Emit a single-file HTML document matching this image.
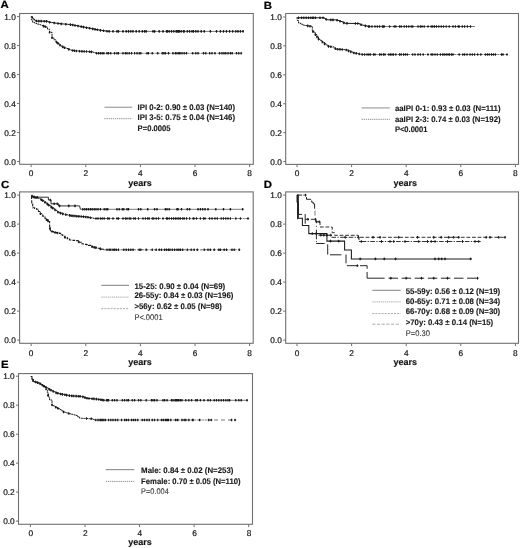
<!DOCTYPE html>
<html lang="en"><head><meta charset="utf-8"><title>Figure</title>
<style>html,body{margin:0;padding:0;background:#fff}svg{display:block}text{font-family:"Liberation Sans", sans-serif;fill:#1c1c1c;text-rendering:geometricPrecision}.tk{font-size:8.3px;fill:#111;stroke:#111;stroke-width:0.18px}.yr{font-size:9px;font-weight:bold;fill:#111;stroke:#111;stroke-width:0.15px}.pl{font-size:10.4px;font-weight:bold;fill:#000;stroke:#000;stroke-width:0.2px}.lg{font-size:8.1px;font-weight:bold;fill:#1a1a1a;stroke:#1a1a1a;stroke-width:0.12px}.lp{font-size:8.1px;fill:#333;stroke:#333;stroke-width:0.1px}</style></head><body>
<svg width="520" height="548" viewBox="0 0 520 548">
<rect width="520" height="548" fill="#fff"/>
<text transform="translate(0.5,8.4) scale(1.1,1)" class="pl">A</text>
<text transform="translate(263.8,8.5) scale(1.1,1)" class="pl">B</text>
<text transform="translate(0.9,188.2) scale(1.1,1)" class="pl">C</text>
<text transform="translate(263.8,187.7) scale(1.1,1)" class="pl">D</text>
<text transform="translate(0.9,367.9) scale(1.1,1)" class="pl">E</text>
<rect x="19.6" y="13.5" width="233.70" height="150.80" fill="none" stroke="#707070" stroke-width="1.1"/>
<line x1="17.10" y1="16.55" x2="19.6" y2="16.55" stroke="#707070" stroke-width="1"/>
<text x="15.80" y="19.60" text-anchor="end" class="tk">1.0</text>
<line x1="17.10" y1="45.54" x2="19.6" y2="45.54" stroke="#707070" stroke-width="1"/>
<text x="15.80" y="48.59" text-anchor="end" class="tk">0.8</text>
<line x1="17.10" y1="74.53" x2="19.6" y2="74.53" stroke="#707070" stroke-width="1"/>
<text x="15.80" y="77.58" text-anchor="end" class="tk">0.6</text>
<line x1="17.10" y1="103.52" x2="19.6" y2="103.52" stroke="#707070" stroke-width="1"/>
<text x="15.80" y="106.57" text-anchor="end" class="tk">0.4</text>
<line x1="17.10" y1="132.51" x2="19.6" y2="132.51" stroke="#707070" stroke-width="1"/>
<text x="15.80" y="135.56" text-anchor="end" class="tk">0.2</text>
<line x1="17.10" y1="161.50" x2="19.6" y2="161.50" stroke="#707070" stroke-width="1"/>
<text x="15.80" y="164.55" text-anchor="end" class="tk">0.0</text>
<line x1="31.15" y1="164.3" x2="31.15" y2="167.10" stroke="#707070" stroke-width="1"/>
<text x="31.15" y="176.10" text-anchor="middle" class="tk">0</text>
<line x1="85.80" y1="164.3" x2="85.80" y2="167.10" stroke="#707070" stroke-width="1"/>
<text x="85.80" y="176.10" text-anchor="middle" class="tk">2</text>
<line x1="140.40" y1="164.3" x2="140.40" y2="167.10" stroke="#707070" stroke-width="1"/>
<text x="140.40" y="176.10" text-anchor="middle" class="tk">4</text>
<line x1="195.00" y1="164.3" x2="195.00" y2="167.10" stroke="#707070" stroke-width="1"/>
<text x="195.00" y="176.10" text-anchor="middle" class="tk">6</text>
<line x1="249.60" y1="164.3" x2="249.60" y2="167.10" stroke="#707070" stroke-width="1"/>
<text x="249.60" y="176.10" text-anchor="middle" class="tk">8</text>
<text x="128.2" y="185.6" class="yr">years</text>
<path d="M31.20,16.50 L32.50,16.50 L32.50,18.40 L33.75,18.40 L33.75,19.60 L35.00,19.60 L35.00,20.80 L37.00,21.10 L45.80,21.20 L47.70,21.20 L47.70,21.75 L49.60,21.75 L49.60,22.30 L51.40,22.30 L51.40,22.57 L53.20,22.57 L53.20,22.83 L55.00,22.83 L55.00,23.10 L56.80,23.10 L56.80,23.33 L58.60,23.33 L58.60,23.57 L60.40,23.57 L60.40,23.80 L61.80,23.80 L61.80,23.90 L63.20,23.90 L63.20,24.00 L64.60,24.00 L64.60,24.10 L66.00,24.10 L66.00,24.20 L67.73,24.20 L67.73,24.37 L69.47,24.37 L69.47,24.53 L71.20,24.53 L71.20,24.70 L72.72,24.70 L72.72,25.00 L74.24,25.00 L74.24,25.30 L75.76,25.30 L75.76,25.60 L77.28,25.60 L77.28,25.90 L78.80,25.90 L78.80,26.20 L80.34,26.20 L80.34,26.50 L81.88,26.50 L81.88,26.80 L83.42,26.80 L83.42,27.10 L84.96,27.10 L84.96,27.40 L86.50,27.40 L86.50,27.70 L88.04,27.70 L88.04,28.00 L89.58,28.00 L89.58,28.30 L91.12,28.30 L91.12,28.60 L92.66,28.60 L92.66,28.90 L94.20,28.90 L94.20,29.20 L95.65,29.20 L95.65,29.48 L97.10,29.48 L97.10,29.75 L98.55,29.75 L98.55,30.02 L100.00,30.02 L100.00,30.30 L101.67,30.30 L101.67,30.53 L103.33,30.53 L103.33,30.77 L105.00,30.77 L105.00,31.00 L107.00,31.00 L107.00,31.20 L109.00,31.20 L109.00,31.40" fill="none" stroke="#1a1a1a" stroke-width="1.0"/>
<path d="M109.00,31.40 L243.75,31.40" fill="none" stroke="#2a2a2a" stroke-width="0.62"/>
<path d="M31.20,16.50 L31.50,20.00 L32.70,20.00 L32.70,22.30 L34.35,22.30 L34.35,22.95 L36.00,22.95 L36.00,23.60 L37.47,23.60 L37.47,24.07 L38.93,24.07 L38.93,24.53 L40.40,24.53 L40.40,25.00 L42.20,25.00 L42.20,25.67 L44.00,25.67 L44.00,26.33 L45.80,26.33 L45.80,27.00 L47.50,27.00 L47.50,29.20 L49.60,29.20 L49.60,32.30 L52.00,32.30 L52.00,37.70 L53.80,37.70 L53.80,39.80 L55.80,39.80 L55.80,41.50 L57.15,41.50 L57.15,42.75 L58.50,42.75 L58.50,44.00 L59.85,44.00 L59.85,45.10 L61.20,45.10 L61.20,46.20 L62.60,46.20 L62.60,46.85 L64.00,46.85 L64.00,47.50 L65.25,47.50 L65.25,48.00 L66.50,48.00 L66.50,48.50 L68.07,48.50 L68.07,49.10 L69.63,49.10 L69.63,49.70 L71.20,49.70 L71.20,50.30 L72.72,50.30 L72.72,50.48 L74.24,50.48 L74.24,50.66 L75.76,50.66 L75.76,50.84 L77.28,50.84 L77.28,51.02 L78.80,51.02 L78.80,51.20 L80.35,51.20 L80.35,51.28 L81.90,51.28 L81.90,51.35 L83.45,51.35 L83.45,51.42 L85.00,51.42 L85.00,51.50 L86.55,51.50 L86.55,51.58 L88.10,51.58 L88.10,51.65 L89.65,51.65 L89.65,51.72 L91.20,51.72 L91.20,51.80 L93.50,51.80 L93.50,52.60 L95.80,52.60 L95.80,53.30" fill="none" stroke="#1a1a1a" stroke-width="1.0" stroke-dasharray="2 0.7"/>
<path d="M95.80,53.30 L241.75,53.30" fill="none" stroke="#2a2a2a" stroke-width="0.62" stroke-dasharray="2 0.7"/>
<path d="M36.50,19.73v2.60M35.55,21.03h1.90M38.80,19.82v2.60M37.85,21.12h1.90M41.20,19.85v2.60M40.25,21.15h1.90M44.20,19.88v2.60M43.25,21.18h1.90M46.50,20.10v2.60M45.55,21.40h1.90M49.60,21.00v2.60M48.65,22.30h1.90M54.20,21.68v2.60M53.25,22.98h1.90M58.00,22.19v2.60M57.05,23.49h1.90M61.20,22.56v2.60M60.25,23.86h1.90M65.80,22.89v2.60M64.85,24.19h1.90M70.40,23.32v2.60M69.45,24.62h1.90M72.70,23.70v2.60M71.75,25.00h1.90M75.00,24.15v2.60M74.05,25.45h1.90M78.00,24.74v2.60M77.05,26.04h1.90M81.20,25.37v2.60M80.25,26.67h1.90M83.50,25.82v2.60M82.55,27.12h1.90M86.50,26.40v2.60M85.55,27.70h1.90M89.60,27.00v2.60M88.65,28.30h1.90M92.70,27.61v2.60M91.75,28.91h1.90M95.00,28.05v2.60M94.05,29.35h1.90M97.30,28.49v2.60M96.35,29.79h1.90M100.40,29.06v2.60M99.45,30.36h1.90M103.50,29.49v2.60M102.55,30.79h1.90M107.00,29.90v2.60M106.05,31.20h1.90M109.20,30.10v2.60M108.25,31.40h1.90M113.00,30.10v2.60M112.05,31.40h1.90M117.00,30.10v2.60M116.05,31.40h1.90M118.50,30.10v2.60M117.55,31.40h1.90M123.00,30.10v2.60M122.05,31.40h1.90M126.20,30.10v2.60M125.25,31.40h1.90M128.50,30.10v2.60M127.55,31.40h1.90M130.80,30.10v2.60M129.85,31.40h1.90M133.00,30.10v2.60M132.05,31.40h1.90M136.20,30.10v2.60M135.25,31.40h1.90M139.20,30.10v2.60M138.25,31.40h1.90M142.30,30.10v2.60M141.35,31.40h1.90M144.60,30.10v2.60M143.65,31.40h1.90M146.20,30.10v2.60M145.25,31.40h1.90M153.00,30.10v2.60M152.05,31.40h1.90M154.60,30.10v2.60M153.65,31.40h1.90M159.20,30.10v2.60M158.25,31.40h1.90M163.00,30.10v2.60M162.05,31.40h1.90M166.60,30.10v2.60M165.65,31.40h1.90M167.40,30.10v2.60M166.45,31.40h1.90M169.20,30.10v2.60M168.25,31.40h1.90M171.50,30.10v2.60M170.55,31.40h1.90M173.80,30.10v2.60M172.85,31.40h1.90M176.20,30.10v2.60M175.25,31.40h1.90M178.50,30.10v2.60M177.55,31.40h1.90M177.30,30.10v2.60M176.35,31.40h1.90M179.30,30.10v2.60M178.35,31.40h1.90M181.20,30.10v2.60M180.25,31.40h1.90M183.50,30.10v2.60M182.55,31.40h1.90M184.20,30.10v2.60M183.25,31.40h1.90M187.30,30.10v2.60M186.35,31.40h1.90M189.60,30.10v2.60M188.65,31.40h1.90M192.00,30.10v2.60M191.05,31.40h1.90M193.50,30.10v2.60M192.55,31.40h1.90M195.80,30.10v2.60M194.85,31.40h1.90M198.00,30.10v2.60M197.05,31.40h1.90M201.20,30.10v2.60M200.25,31.40h1.90M204.20,30.10v2.60M203.25,31.40h1.90M210.40,30.10v2.60M209.45,31.40h1.90M216.50,30.10v2.60M215.55,31.40h1.90M220.40,30.10v2.60M219.45,31.40h1.90M223.50,30.10v2.60M222.55,31.40h1.90M226.50,30.10v2.60M225.55,31.40h1.90M229.60,30.10v2.60M228.65,31.40h1.90M232.70,30.10v2.60M231.75,31.40h1.90M235.80,30.10v2.60M234.85,31.40h1.90M238.00,30.10v2.60M237.05,31.40h1.90M240.40,30.10v2.60M239.45,31.40h1.90M243.00,30.10v2.60M242.05,31.40h1.90" fill="none" stroke="#1a1a1a" stroke-width="1.1"/>
<path d="M43.50,24.85v2.60M42.55,26.15h1.90M45.30,25.51v2.60M44.35,26.81h1.90M49.60,31.00v2.60M48.65,32.30h1.90M52.00,36.40v2.60M51.05,37.70h1.90M56.50,40.85v2.60M55.55,42.15h1.90M58.00,42.24v2.60M57.05,43.54h1.90M60.00,43.92v2.60M59.05,45.22h1.90M62.70,45.60v2.60M61.75,46.90h1.90M64.50,46.40v2.60M63.55,47.70h1.90M68.80,48.08v2.60M67.85,49.38h1.90M72.70,49.18v2.60M71.75,50.48h1.90M74.50,49.39v2.60M73.55,50.69h1.90M76.50,49.63v2.60M75.55,50.93h1.90M79.60,49.94v2.60M78.65,51.24h1.90M82.00,50.05v2.60M81.05,51.35h1.90M84.20,50.16v2.60M83.25,51.46h1.90M86.50,50.27v2.60M85.55,51.57h1.90M89.60,50.42v2.60M88.65,51.72h1.90M91.50,50.60v2.60M90.55,51.90h1.90M96.50,52.00v2.60M95.55,53.30h1.90M98.50,52.00v2.60M97.55,53.30h1.90M100.40,52.00v2.60M99.45,53.30h1.90M102.20,52.00v2.60M101.25,53.30h1.90M103.80,52.00v2.60M102.85,53.30h1.90M107.00,52.00v2.60M106.05,53.30h1.90M108.50,52.00v2.60M107.55,53.30h1.90M110.80,52.00v2.60M109.85,53.30h1.90M114.60,52.00v2.60M113.65,53.30h1.90M117.00,52.00v2.60M116.05,53.30h1.90M118.50,52.00v2.60M117.55,53.30h1.90M123.00,52.00v2.60M122.05,53.30h1.90M125.40,52.00v2.60M124.45,53.30h1.90M127.00,52.00v2.60M126.05,53.30h1.90M129.20,52.00v2.60M128.25,53.30h1.90M131.50,52.00v2.60M130.55,53.30h1.90M134.60,52.00v2.60M133.65,53.30h1.90M137.00,52.00v2.60M136.05,53.30h1.90M139.20,52.00v2.60M138.25,53.30h1.90M140.80,52.00v2.60M139.85,53.30h1.90M147.00,52.00v2.60M146.05,53.30h1.90M148.50,52.00v2.60M147.55,53.30h1.90M152.30,52.00v2.60M151.35,53.30h1.90M157.70,52.00v2.60M156.75,53.30h1.90M162.30,52.00v2.60M161.35,53.30h1.90M163.80,52.00v2.60M162.85,53.30h1.90M165.40,52.00v2.60M164.45,53.30h1.90M168.50,52.00v2.60M167.55,53.30h1.90M173.00,52.00v2.60M172.05,53.30h1.90M175.40,52.00v2.60M174.45,53.30h1.90M177.00,52.00v2.60M176.05,53.30h1.90M178.80,52.00v2.60M177.85,53.30h1.90M180.00,52.00v2.60M179.05,53.30h1.90M182.00,52.00v2.60M181.05,53.30h1.90M184.20,52.00v2.60M183.25,53.30h1.90M186.50,52.00v2.60M185.55,53.30h1.90M192.70,52.00v2.60M191.75,53.30h1.90M195.80,52.00v2.60M194.85,53.30h1.90M198.00,52.00v2.60M197.05,53.30h1.90M203.50,52.00v2.60M202.55,53.30h1.90M205.80,52.00v2.60M204.85,53.30h1.90M209.60,52.00v2.60M208.65,53.30h1.90M212.00,52.00v2.60M211.05,53.30h1.90M215.00,52.00v2.60M214.05,53.30h1.90M219.60,52.00v2.60M218.65,53.30h1.90M222.00,52.00v2.60M221.05,53.30h1.90M224.00,52.00v2.60M223.05,53.30h1.90M225.80,52.00v2.60M224.85,53.30h1.90M228.00,52.00v2.60M227.05,53.30h1.90M230.40,52.00v2.60M229.45,53.30h1.90M232.20,52.00v2.60M231.25,53.30h1.90M236.50,52.00v2.60M235.55,53.30h1.90M238.80,52.00v2.60M237.85,53.30h1.90M241.20,52.00v2.60M240.25,53.30h1.90" fill="none" stroke="#1a1a1a" stroke-width="1.1"/>
<line x1="104.4" y1="107.3" x2="132.2" y2="107.3" stroke="#adadad" stroke-width="1.4"/>
<text x="137.6" y="110.40" class="lg" textLength="97.40" lengthAdjust="spacingAndGlyphs">IPI 0-2: 0.90 ± 0.03 (N=140)</text>
<line x1="104.4" y1="118.7" x2="132.2" y2="118.7" stroke="#8e8e8e" stroke-width="1.0" stroke-dasharray="1.3 0.8"/>
<text x="137.6" y="120.40" class="lg" textLength="97.40" lengthAdjust="spacingAndGlyphs">IPI 3-5: 0.75 ± 0.04 (N=146)</text>
<text x="137.6" y="130.90" class="lg" textLength="32.90" lengthAdjust="spacingAndGlyphs">P=0.0005</text>
<rect x="285.7" y="13.5" width="232.80" height="150.90" fill="none" stroke="#707070" stroke-width="1.1"/>
<line x1="283.20" y1="17.00" x2="285.7" y2="17.00" stroke="#707070" stroke-width="1"/>
<text x="281.90" y="20.05" text-anchor="end" class="tk">1.0</text>
<line x1="283.20" y1="45.92" x2="285.7" y2="45.92" stroke="#707070" stroke-width="1"/>
<text x="281.90" y="48.97" text-anchor="end" class="tk">0.8</text>
<line x1="283.20" y1="74.84" x2="285.7" y2="74.84" stroke="#707070" stroke-width="1"/>
<text x="281.90" y="77.89" text-anchor="end" class="tk">0.6</text>
<line x1="283.20" y1="103.76" x2="285.7" y2="103.76" stroke="#707070" stroke-width="1"/>
<text x="281.90" y="106.81" text-anchor="end" class="tk">0.4</text>
<line x1="283.20" y1="132.68" x2="285.7" y2="132.68" stroke="#707070" stroke-width="1"/>
<text x="281.90" y="135.73" text-anchor="end" class="tk">0.2</text>
<line x1="283.20" y1="161.60" x2="285.7" y2="161.60" stroke="#707070" stroke-width="1"/>
<text x="281.90" y="164.65" text-anchor="end" class="tk">0.0</text>
<line x1="297.00" y1="164.4" x2="297.00" y2="167.20" stroke="#707070" stroke-width="1"/>
<text x="297.00" y="176.10" text-anchor="middle" class="tk">0</text>
<line x1="351.60" y1="164.4" x2="351.60" y2="167.20" stroke="#707070" stroke-width="1"/>
<text x="351.60" y="176.10" text-anchor="middle" class="tk">2</text>
<line x1="406.20" y1="164.4" x2="406.20" y2="167.20" stroke="#707070" stroke-width="1"/>
<text x="406.20" y="176.10" text-anchor="middle" class="tk">4</text>
<line x1="460.80" y1="164.4" x2="460.80" y2="167.20" stroke="#707070" stroke-width="1"/>
<text x="460.80" y="176.10" text-anchor="middle" class="tk">6</text>
<line x1="515.40" y1="164.4" x2="515.40" y2="167.20" stroke="#707070" stroke-width="1"/>
<text x="515.40" y="176.10" text-anchor="middle" class="tk">8</text>
<text x="393.6" y="185.6" class="yr">years</text>
<path d="M297.00,17.30 L297.60,17.80 L323.00,17.80 L324.60,17.80 L324.60,18.65 L326.20,18.65 L326.20,19.50 L328.00,19.80 L336.00,19.90 L337.60,19.90 L337.60,20.43 L339.20,20.43 L339.20,20.97 L340.80,20.97 L340.80,21.50 L342.70,21.50 L342.70,22.40 L344.60,22.40 L344.60,23.30 L357.70,23.50 L359.60,23.50 L359.60,24.25 L361.50,24.25 L361.50,25.00 L363.25,25.00 L363.25,25.40 L365.00,25.40 L365.00,25.80 L366.75,25.80 L366.75,26.15 L368.50,26.15 L368.50,26.50" fill="none" stroke="#1a1a1a" stroke-width="1.0"/>
<path d="M368.50,26.50 L475.00,26.50" fill="none" stroke="#2a2a2a" stroke-width="0.62"/>
<path d="M297.00,17.30 L297.30,20.50 L298.50,20.50 L298.50,23.00 L300.40,23.00 L300.40,24.00 L302.30,24.00 L302.30,25.00 L303.84,25.00 L303.84,25.24 L305.38,25.24 L305.38,25.48 L306.92,25.48 L306.92,25.72 L308.46,25.72 L308.46,25.96 L310.00,25.96 L310.00,26.20 L312.30,26.20 L312.30,30.80 L313.85,30.80 L313.85,32.70 L315.40,32.70 L315.40,34.60 L316.95,34.60 L316.95,36.90 L318.50,36.90 L318.50,39.20 L320.00,39.20 L320.00,40.33 L321.50,40.33 L321.50,41.47 L323.00,41.47 L323.00,42.60 L324.57,42.60 L324.57,43.80 L326.13,43.80 L326.13,45.00 L327.70,45.00 L327.70,46.20 L329.23,46.20 L329.23,46.47 L330.77,46.47 L330.77,46.73 L332.30,46.73 L332.30,47.00 L334.25,47.00 L334.25,48.10 L336.20,48.10 L336.20,49.20 L337.73,49.20 L337.73,49.28 L339.27,49.28 L339.27,49.37 L340.80,49.37 L340.80,49.45 L342.33,49.45 L342.33,49.53 L343.87,49.53 L343.87,49.62 L345.40,49.62 L345.40,49.70 L347.30,49.70 L347.30,50.45 L349.20,50.45 L349.20,51.20 L351.10,51.20 L351.10,52.00 L353.00,52.00 L353.00,52.80 L354.83,52.80 L354.83,53.13 L356.67,53.13 L356.67,53.47 L358.50,53.47 L358.50,53.80 L360.40,53.80 L360.40,54.15 L362.30,54.15 L362.30,54.50" fill="none" stroke="#1a1a1a" stroke-width="1.0" stroke-dasharray="2 0.7"/>
<path d="M362.30,54.50 L507.60,54.50" fill="none" stroke="#2a2a2a" stroke-width="0.62" stroke-dasharray="2 0.7"/>
<path d="M298.50,16.50v2.60M297.55,17.80h1.90M301.50,16.50v2.60M300.55,17.80h1.90M303.80,16.50v2.60M302.85,17.80h1.90M306.20,16.50v2.60M305.25,17.80h1.90M308.50,16.50v2.60M307.55,17.80h1.90M310.80,16.50v2.60M309.85,17.80h1.90M312.70,16.50v2.60M311.75,17.80h1.90M313.40,16.50v2.60M312.45,17.80h1.90M315.40,16.50v2.60M314.45,17.80h1.90M320.00,16.50v2.60M319.05,17.80h1.90M323.00,16.50v2.60M322.05,17.80h1.90M326.20,18.20v2.60M325.25,19.50h1.90M330.80,18.54v2.60M329.85,19.84h1.90M333.00,18.56v2.60M332.05,19.86h1.90M337.00,18.93v2.60M336.05,20.23h1.90M340.00,19.93v2.60M339.05,21.23h1.90M343.80,21.62v2.60M342.85,22.92h1.90M347.00,22.04v2.60M346.05,23.34h1.90M355.40,22.16v2.60M354.45,23.46h1.90M357.70,22.20v2.60M356.75,23.50h1.90M361.00,23.50v2.60M360.05,24.80h1.90M365.40,24.58v2.60M364.45,25.88h1.90M368.50,25.20v2.60M367.55,26.50h1.90M369.60,25.20v2.60M368.65,26.50h1.90M372.00,25.20v2.60M371.05,26.50h1.90M375.00,25.20v2.60M374.05,26.50h1.90M377.30,25.20v2.60M376.35,26.50h1.90M379.60,25.20v2.60M378.65,26.50h1.90M382.40,25.20v2.60M381.45,26.50h1.90M383.10,25.20v2.60M382.15,26.50h1.90M384.20,25.20v2.60M383.25,26.50h1.90M389.60,25.20v2.60M388.65,26.50h1.90M394.20,25.20v2.60M393.25,26.50h1.90M395.80,25.20v2.60M394.85,26.50h1.90M399.60,25.20v2.60M398.65,26.50h1.90M401.20,25.20v2.60M400.25,26.50h1.90M404.20,25.20v2.60M403.25,26.50h1.90M406.50,25.20v2.60M405.55,26.50h1.90M408.80,25.20v2.60M407.85,26.50h1.90M411.20,25.20v2.60M410.25,26.50h1.90M412.70,25.20v2.60M411.75,26.50h1.90M418.00,25.20v2.60M417.05,26.50h1.90M420.40,25.20v2.60M419.45,26.50h1.90M422.00,25.20v2.60M421.05,26.50h1.90M424.20,25.20v2.60M423.25,26.50h1.90M428.00,25.20v2.60M427.05,26.50h1.90M431.20,25.20v2.60M430.25,26.50h1.90M432.70,25.20v2.60M431.75,26.50h1.90M434.50,25.20v2.60M433.55,26.50h1.90M436.50,25.20v2.60M435.55,26.50h1.90M438.80,25.20v2.60M437.85,26.50h1.90M441.20,25.20v2.60M440.25,26.50h1.90M443.50,25.20v2.60M442.55,26.50h1.90M446.20,25.20v2.60M445.25,26.50h1.90M449.20,25.20v2.60M448.25,26.50h1.90M453.00,25.20v2.60M452.05,26.50h1.90M455.40,25.20v2.60M454.45,26.50h1.90M458.20,25.20v2.60M457.25,26.50h1.90M459.20,25.20v2.60M458.25,26.50h1.90M462.30,25.20v2.60M461.35,26.50h1.90M464.60,25.20v2.60M463.65,26.50h1.90M467.40,25.20v2.60M466.45,26.50h1.90M470.50,25.20v2.60M469.55,26.50h1.90" fill="none" stroke="#1a1a1a" stroke-width="1.1"/>
<path d="M307.70,24.54v2.60M306.75,25.84h1.90M310.00,24.90v2.60M309.05,26.20h1.90M313.00,30.36v2.60M312.05,31.66h1.90M315.40,33.30v2.60M314.45,34.60h1.90M317.00,35.67v2.60M316.05,36.97h1.90M318.50,37.90v2.60M317.55,39.20h1.90M322.30,40.77v2.60M321.35,42.07h1.90M324.60,42.53v2.60M323.65,43.83h1.90M328.50,45.04v2.60M327.55,46.34h1.90M330.80,45.44v2.60M329.85,46.74h1.90M335.40,47.45v2.60M334.45,48.75h1.90M337.70,47.98v2.60M336.75,49.28h1.90M340.00,48.11v2.60M339.05,49.41h1.90M342.30,48.23v2.60M341.35,49.53h1.90M346.20,48.72v2.60M345.25,50.02h1.90M348.50,49.62v2.60M347.55,50.92h1.90M350.80,50.57v2.60M349.85,51.87h1.90M353.80,51.65v2.60M352.85,52.95h1.90M356.20,52.08v2.60M355.25,53.38h1.90M359.20,52.63v2.60M358.25,53.93h1.90M362.30,53.20v2.60M361.35,54.50h1.90M364.60,53.20v2.60M363.65,54.50h1.90M367.00,53.20v2.60M366.05,54.50h1.90M368.80,53.20v2.60M367.85,54.50h1.90M370.40,53.20v2.60M369.45,54.50h1.90M373.50,53.20v2.60M372.55,54.50h1.90M375.00,53.20v2.60M374.05,54.50h1.90M379.60,53.20v2.60M378.65,54.50h1.90M381.20,53.20v2.60M380.25,54.50h1.90M383.50,53.20v2.60M382.55,54.50h1.90M385.00,53.20v2.60M384.05,54.50h1.90M388.80,53.20v2.60M387.85,54.50h1.90M390.40,53.20v2.60M389.45,54.50h1.90M392.00,53.20v2.60M391.05,54.50h1.90M393.50,53.20v2.60M392.55,54.50h1.90M395.80,53.20v2.60M394.85,54.50h1.90M399.60,53.20v2.60M398.65,54.50h1.90M401.20,53.20v2.60M400.25,54.50h1.90M403.50,53.20v2.60M402.55,54.50h1.90M405.30,53.20v2.60M404.35,54.50h1.90M407.30,53.20v2.60M406.35,54.50h1.90M412.70,53.20v2.60M411.75,54.50h1.90M415.00,53.20v2.60M414.05,54.50h1.90M418.00,53.20v2.60M417.05,54.50h1.90M420.40,53.20v2.60M419.45,54.50h1.90M423.20,53.20v2.60M422.25,54.50h1.90M428.00,53.20v2.60M427.05,54.50h1.90M431.20,53.20v2.60M430.25,54.50h1.90M432.70,53.20v2.60M431.75,54.50h1.90M435.00,53.20v2.60M434.05,54.50h1.90M437.30,53.20v2.60M436.35,54.50h1.90M440.40,53.20v2.60M439.45,54.50h1.90M442.70,53.20v2.60M441.75,54.50h1.90M444.30,53.20v2.60M443.35,54.50h1.90M446.20,53.20v2.60M445.25,54.50h1.90M448.00,53.20v2.60M447.05,54.50h1.90M449.50,53.20v2.60M448.55,54.50h1.90M451.50,53.20v2.60M450.55,54.50h1.90M453.00,53.20v2.60M452.05,54.50h1.90M459.20,53.20v2.60M458.25,54.50h1.90M462.80,53.20v2.60M461.85,54.50h1.90M464.60,53.20v2.60M463.65,54.50h1.90M467.00,53.20v2.60M466.05,54.50h1.90M470.00,53.20v2.60M469.05,54.50h1.90M472.30,53.20v2.60M471.35,54.50h1.90M474.60,53.20v2.60M473.65,54.50h1.90M477.70,53.20v2.60M476.75,54.50h1.90M480.80,53.20v2.60M479.85,54.50h1.90M485.40,53.20v2.60M484.45,54.50h1.90M487.40,53.20v2.60M486.45,54.50h1.90M489.20,53.20v2.60M488.25,54.50h1.90M491.50,53.20v2.60M490.55,54.50h1.90M493.40,53.20v2.60M492.45,54.50h1.90M495.40,53.20v2.60M494.45,54.50h1.90M501.50,53.20v2.60M500.55,54.50h1.90M503.00,53.20v2.60M502.05,54.50h1.90M507.00,53.20v2.60M506.05,54.50h1.90" fill="none" stroke="#1a1a1a" stroke-width="1.1"/>
<line x1="361.6" y1="107.9" x2="389.8" y2="107.9" stroke="#adadad" stroke-width="1.4"/>
<text x="394.9" y="110.70" class="lg" textLength="105.70" lengthAdjust="spacingAndGlyphs">aaIPI 0-1: 0.93 ± 0.03 (N=111)</text>
<line x1="361.6" y1="119.3" x2="389.8" y2="119.3" stroke="#8e8e8e" stroke-width="1.0" stroke-dasharray="1.3 0.8"/>
<text x="394.9" y="121.50" class="lg" textLength="105.70" lengthAdjust="spacingAndGlyphs">aaIPI 2-3: 0.74 ± 0.03 (N=192)</text>
<text x="394.9" y="131.70" class="lg" textLength="32.60" lengthAdjust="spacingAndGlyphs">P&lt;0.0001</text>
<rect x="19.6" y="191.9" width="233.60" height="151.40" fill="none" stroke="#707070" stroke-width="1.1"/>
<line x1="17.10" y1="195.10" x2="19.6" y2="195.10" stroke="#707070" stroke-width="1"/>
<text x="15.80" y="198.15" text-anchor="end" class="tk">1.0</text>
<line x1="17.10" y1="224.11" x2="19.6" y2="224.11" stroke="#707070" stroke-width="1"/>
<text x="15.80" y="227.16" text-anchor="end" class="tk">0.8</text>
<line x1="17.10" y1="253.12" x2="19.6" y2="253.12" stroke="#707070" stroke-width="1"/>
<text x="15.80" y="256.17" text-anchor="end" class="tk">0.6</text>
<line x1="17.10" y1="282.13" x2="19.6" y2="282.13" stroke="#707070" stroke-width="1"/>
<text x="15.80" y="285.18" text-anchor="end" class="tk">0.4</text>
<line x1="17.10" y1="311.14" x2="19.6" y2="311.14" stroke="#707070" stroke-width="1"/>
<text x="15.80" y="314.19" text-anchor="end" class="tk">0.2</text>
<line x1="17.10" y1="340.15" x2="19.6" y2="340.15" stroke="#707070" stroke-width="1"/>
<text x="15.80" y="343.20" text-anchor="end" class="tk">0.0</text>
<line x1="31.15" y1="343.3" x2="31.15" y2="346.10" stroke="#707070" stroke-width="1"/>
<text x="31.15" y="355.50" text-anchor="middle" class="tk">0</text>
<line x1="85.80" y1="343.3" x2="85.80" y2="346.10" stroke="#707070" stroke-width="1"/>
<text x="85.80" y="355.50" text-anchor="middle" class="tk">2</text>
<line x1="140.40" y1="343.3" x2="140.40" y2="346.10" stroke="#707070" stroke-width="1"/>
<text x="140.40" y="355.50" text-anchor="middle" class="tk">4</text>
<line x1="195.00" y1="343.3" x2="195.00" y2="346.10" stroke="#707070" stroke-width="1"/>
<text x="195.00" y="355.50" text-anchor="middle" class="tk">6</text>
<line x1="249.60" y1="343.3" x2="249.60" y2="346.10" stroke="#707070" stroke-width="1"/>
<text x="249.60" y="355.50" text-anchor="middle" class="tk">8</text>
<text x="128.2" y="365.3" class="yr">years</text>
<path d="M31.50,196.00 L32.20,196.00 L32.20,197.20 L48.40,197.20 L48.40,200.00 L51.00,200.00 L51.00,203.80 L58.40,203.80 L58.40,205.90 L79.60,205.90 L80.40,209.30" fill="none" stroke="#1a1a1a" stroke-width="0.9"/>
<path d="M80.40,209.30 L243.00,209.30" fill="none" stroke="#2a2a2a" stroke-width="0.62"/>
<path d="M31.50,196.00 L33.00,196.00 L33.00,196.53 L34.50,196.53 L34.50,197.07 L36.00,197.07 L36.00,197.60 L37.47,197.60 L37.47,198.13 L38.93,198.13 L38.93,198.67 L40.40,198.67 L40.40,199.20 L42.20,199.20 L42.20,200.47 L44.00,200.47 L44.00,201.73 L45.80,201.73 L45.80,203.00 L47.35,203.00 L47.35,204.18 L48.90,204.18 L48.90,205.35 L50.45,205.35 L50.45,206.52 L52.00,206.52 L52.00,207.70 L53.50,207.70 L53.50,208.85 L55.00,208.85 L55.00,210.00 L56.50,210.00 L56.50,211.15 L58.00,211.15 L58.00,212.30 L59.83,212.30 L59.83,212.93 L61.67,212.93 L61.67,213.57 L63.50,213.57 L63.50,214.20 L65.04,214.20 L65.04,214.50 L66.58,214.50 L66.58,214.80 L68.12,214.80 L68.12,215.10 L69.66,215.10 L69.66,215.40 L71.20,215.40 L71.20,215.70 L72.73,215.70 L72.73,215.83 L74.26,215.83 L74.26,215.96 L75.79,215.96 L75.79,216.09 L77.32,216.09 L77.32,216.22 L78.85,216.22 L78.85,216.35 L80.38,216.35 L80.38,216.48 L81.91,216.48 L81.91,216.61 L83.44,216.61 L83.44,216.74 L84.97,216.74 L84.97,216.87 L86.50,216.87 L86.50,217.00 L88.04,217.00 L88.04,217.30 L89.58,217.30 L89.58,217.60 L91.12,217.60 L91.12,217.90 L92.66,217.90 L92.66,218.20 L94.20,218.20 L94.20,218.50" fill="none" stroke="#1a1a1a" stroke-width="1.0" stroke-dasharray="2 0.7"/>
<path d="M94.20,218.50 L249.30,218.50" fill="none" stroke="#2a2a2a" stroke-width="0.62" stroke-dasharray="2 0.7"/>
<path d="M31.50,196.00 L31.80,203.00 L32.70,203.00 L32.70,207.70 L34.60,207.70 L34.60,208.45 L36.50,208.45 L36.50,209.20 L38.45,209.20 L38.45,211.50 L40.40,211.50 L40.40,213.80 L42.70,213.80 L42.70,216.15 L45.00,216.15 L45.00,218.50 L46.90,218.50 L46.90,220.00 L48.80,220.00 L48.80,221.50 L49.60,221.50 L49.60,226.00 L50.40,230.80 L51.95,230.80 L51.95,231.55 L53.50,231.55 L53.50,232.30 L55.53,232.30 L55.53,232.67 L57.57,232.67 L57.57,233.03 L59.60,233.03 L59.60,233.40 L61.15,233.40 L61.15,234.80 L62.70,234.80 L62.70,236.20 L65.00,236.20 L65.00,237.47 L67.30,237.47 L67.30,238.73 L69.60,238.73 L69.60,240.00 L71.52,240.00 L71.52,240.20 L73.45,240.20 L73.45,240.40 L75.38,240.40 L75.38,240.60 L77.30,240.60 L77.30,240.80 L79.25,240.80 L79.25,242.30 L81.20,242.30 L81.20,243.80 L82.97,243.80 L82.97,244.07 L84.73,244.07 L84.73,244.33 L86.50,244.33 L86.50,244.60 L88.57,244.60 L88.57,245.40 L90.63,245.40 L90.63,246.20 L92.70,246.20 L92.70,247.00 L94.47,247.00 L94.47,247.40 L96.23,247.40 L96.23,247.80 L98.00,247.80 L98.00,248.20 L99.83,248.20 L99.83,248.73 L101.67,248.73 L101.67,249.27 L103.50,249.27 L103.50,249.80" fill="none" stroke="#1a1a1a" stroke-width="1.1" stroke-dasharray="3 1.2"/>
<path d="M103.50,249.80 L240.00,249.80" fill="none" stroke="#2a2a2a" stroke-width="0.7" stroke-dasharray="3 1.2"/>
<path d="M32.00,194.70v2.60M31.05,196.00h1.90M34.20,195.90v2.60M33.25,197.20h1.90M37.30,195.90v2.60M36.35,197.20h1.90M50.40,198.70v2.60M49.45,200.00h1.90M54.20,202.50v2.60M53.25,203.80h1.90M57.30,202.50v2.60M56.35,203.80h1.90M59.60,204.60v2.60M58.65,205.90h1.90M68.80,204.60v2.60M67.85,205.90h1.90M75.00,204.60v2.60M74.05,205.90h1.90M82.70,208.00v2.60M81.75,209.30h1.90M84.70,208.00v2.60M83.75,209.30h1.90M86.50,208.00v2.60M85.55,209.30h1.90M88.40,208.00v2.60M87.45,209.30h1.90M90.40,208.00v2.60M89.45,209.30h1.90M92.20,208.00v2.60M91.25,209.30h1.90M94.20,208.00v2.60M93.25,209.30h1.90M96.00,208.00v2.60M95.05,209.30h1.90M98.00,208.00v2.60M97.05,209.30h1.90M100.40,208.00v2.60M99.45,209.30h1.90M104.20,208.00v2.60M103.25,209.30h1.90M106.20,208.00v2.60M105.25,209.30h1.90M107.70,208.00v2.60M106.75,209.30h1.90M117.00,208.00v2.60M116.05,209.30h1.90M119.20,208.00v2.60M118.25,209.30h1.90M122.30,208.00v2.60M121.35,209.30h1.90M123.80,208.00v2.60M122.85,209.30h1.90M127.00,208.00v2.60M126.05,209.30h1.90M128.50,208.00v2.60M127.55,209.30h1.90M138.50,208.00v2.60M137.55,209.30h1.90M140.80,208.00v2.60M139.85,209.30h1.90M147.70,208.00v2.60M146.75,209.30h1.90M154.60,208.00v2.60M153.65,209.30h1.90M157.00,208.00v2.60M156.05,209.30h1.90M165.40,208.00v2.60M164.45,209.30h1.90M167.00,208.00v2.60M166.05,209.30h1.90M169.20,208.00v2.60M168.25,209.30h1.90M177.00,208.00v2.60M176.05,209.30h1.90M178.00,208.00v2.60M177.05,209.30h1.90M181.50,208.00v2.60M180.55,209.30h1.90M187.30,208.00v2.60M186.35,209.30h1.90M189.60,208.00v2.60M188.65,209.30h1.90M198.00,208.00v2.60M197.05,209.30h1.90M200.40,208.00v2.60M199.45,209.30h1.90M202.70,208.00v2.60M201.75,209.30h1.90M205.00,208.00v2.60M204.05,209.30h1.90M208.00,208.00v2.60M207.05,209.30h1.90M215.80,208.00v2.60M214.85,209.30h1.90M223.50,208.00v2.60M222.55,209.30h1.90M230.40,208.00v2.60M229.45,209.30h1.90M242.70,208.00v2.60M241.75,209.30h1.90" fill="none" stroke="#1a1a1a" stroke-width="1.1"/>
<path d="M34.00,195.59v2.60M33.05,196.89h1.90M36.00,196.30v2.60M35.05,197.60h1.90M41.20,198.46v2.60M40.25,199.76h1.90M42.70,199.52v2.60M41.75,200.82h1.90M45.00,201.14v2.60M44.05,202.44h1.90M47.30,202.84v2.60M46.35,204.14h1.90M48.80,203.97v2.60M47.85,205.27h1.90M51.20,205.79v2.60M50.25,207.09h1.90M52.70,206.94v2.60M51.75,208.24h1.90M55.00,208.70v2.60M54.05,210.00h1.90M58.00,211.00v2.60M57.05,212.30h1.90M60.40,211.83v2.60M59.45,213.13h1.90M62.70,212.62v2.60M61.75,213.92h1.90M65.80,213.35v2.60M64.85,214.65h1.90M69.60,214.09v2.60M68.65,215.39h1.90M71.20,214.40v2.60M70.25,215.70h1.90M73.00,214.55v2.60M72.05,215.85h1.90M75.00,214.72v2.60M74.05,216.02h1.90M76.80,214.88v2.60M75.85,216.18h1.90M78.80,215.05v2.60M77.85,216.35h1.90M81.20,215.25v2.60M80.25,216.55h1.90M83.50,215.45v2.60M82.55,216.75h1.90M85.80,215.64v2.60M84.85,216.94h1.90M88.00,215.99v2.60M87.05,217.29h1.90M90.40,216.46v2.60M89.45,217.76h1.90M96.00,217.20v2.60M95.05,218.50h1.90M98.00,217.20v2.60M97.05,218.50h1.90M100.40,217.20v2.60M99.45,218.50h1.90M102.20,217.20v2.60M101.25,218.50h1.90M104.20,217.20v2.60M103.25,218.50h1.90M107.70,217.20v2.60M106.75,218.50h1.90M109.20,217.20v2.60M108.25,218.50h1.90M113.00,217.20v2.60M112.05,218.50h1.90M117.00,217.20v2.60M116.05,218.50h1.90M118.50,217.20v2.60M117.55,218.50h1.90M123.00,217.20v2.60M122.05,218.50h1.90M125.40,217.20v2.60M124.45,218.50h1.90M127.00,217.20v2.60M126.05,218.50h1.90M129.20,217.20v2.60M128.25,218.50h1.90M130.80,217.20v2.60M129.85,218.50h1.90M133.80,217.20v2.60M132.85,218.50h1.90M135.40,217.20v2.60M134.45,218.50h1.90M138.50,217.20v2.60M137.55,218.50h1.90M143.00,217.20v2.60M142.05,218.50h1.90M145.40,217.20v2.60M144.45,218.50h1.90M147.70,217.20v2.60M146.75,218.50h1.90M149.20,217.20v2.60M148.25,218.50h1.90M152.30,217.20v2.60M151.35,218.50h1.90M153.80,217.20v2.60M152.85,218.50h1.90M156.20,217.20v2.60M155.25,218.50h1.90M158.50,217.20v2.60M157.55,218.50h1.90M163.00,217.20v2.60M162.05,218.50h1.90M166.60,217.20v2.60M165.65,218.50h1.90M167.40,217.20v2.60M166.45,218.50h1.90M169.20,217.20v2.60M168.25,218.50h1.90M171.50,217.20v2.60M170.55,218.50h1.90M173.50,217.20v2.60M172.55,218.50h1.90M175.40,217.20v2.60M174.45,218.50h1.90M177.00,217.20v2.60M176.05,218.50h1.90M178.80,217.20v2.60M177.85,218.50h1.90M180.40,217.20v2.60M179.45,218.50h1.90M182.70,217.20v2.60M181.75,218.50h1.90M184.20,217.20v2.60M183.25,218.50h1.90M186.50,217.20v2.60M185.55,218.50h1.90M189.60,217.20v2.60M188.65,218.50h1.90M193.20,217.20v2.60M192.25,218.50h1.90M193.90,217.20v2.60M192.95,218.50h1.90M196.50,217.20v2.60M195.55,218.50h1.90M200.40,217.20v2.60M199.45,218.50h1.90M203.50,217.20v2.60M202.55,218.50h1.90M205.00,217.20v2.60M204.05,218.50h1.90M209.60,217.20v2.60M208.65,218.50h1.90M212.00,217.20v2.60M211.05,218.50h1.90M215.00,217.20v2.60M214.05,218.50h1.90M217.30,217.20v2.60M216.35,218.50h1.90M221.20,217.20v2.60M220.25,218.50h1.90M223.50,217.20v2.60M222.55,218.50h1.90M225.80,217.20v2.60M224.85,218.50h1.90M228.00,217.20v2.60M227.05,218.50h1.90M230.40,217.20v2.60M229.45,218.50h1.90M235.80,217.20v2.60M234.85,218.50h1.90M240.40,217.20v2.60M239.45,218.50h1.90M248.00,217.20v2.60M247.05,218.50h1.90" fill="none" stroke="#1a1a1a" stroke-width="1.1"/>
<path d="M40.40,212.50v2.60M39.45,213.80h1.90M46.50,218.38v2.60M45.55,219.68h1.90M48.00,219.57v2.60M47.05,220.87h1.90M50.00,227.10v2.60M49.05,228.40h1.90M52.00,230.27v2.60M51.05,231.57h1.90M55.00,231.27v2.60M54.05,232.57h1.90M57.30,231.69v2.60M56.35,232.99h1.90M65.00,236.17v2.60M64.05,237.47h1.90M78.80,240.65v2.60M77.85,241.95h1.90M92.00,245.43v2.60M91.05,246.73h1.90M94.20,246.04v2.60M93.25,247.34h1.90M95.80,246.40v2.60M94.85,247.70h1.90M100.40,247.60v2.60M99.45,248.90h1.90M107.00,248.50v2.60M106.05,249.80h1.90M109.20,248.50v2.60M108.25,249.80h1.90M110.80,248.50v2.60M109.85,249.80h1.90M113.00,248.50v2.60M112.05,249.80h1.90M114.60,248.50v2.60M113.65,249.80h1.90M116.20,248.50v2.60M115.25,249.80h1.90M118.50,248.50v2.60M117.55,249.80h1.90M123.80,248.50v2.60M122.85,249.80h1.90M126.20,248.50v2.60M125.25,249.80h1.90M128.50,248.50v2.60M127.55,249.80h1.90M130.80,248.50v2.60M129.85,249.80h1.90M133.00,248.50v2.60M132.05,249.80h1.90M139.20,248.50v2.60M138.25,249.80h1.90M140.80,248.50v2.60M139.85,249.80h1.90M146.20,248.50v2.60M145.25,249.80h1.90M152.30,248.50v2.60M151.35,249.80h1.90M156.20,248.50v2.60M155.25,249.80h1.90M159.20,248.50v2.60M158.25,249.80h1.90M161.50,248.50v2.60M160.55,249.80h1.90M164.60,248.50v2.60M163.65,249.80h1.90M166.50,248.50v2.60M165.55,249.80h1.90M168.50,248.50v2.60M167.55,249.80h1.90M170.00,248.50v2.60M169.05,249.80h1.90M172.30,248.50v2.60M171.35,249.80h1.90M174.60,248.50v2.60M173.65,249.80h1.90M177.00,248.50v2.60M176.05,249.80h1.90M178.80,248.50v2.60M177.85,249.80h1.90M180.40,248.50v2.60M179.45,249.80h1.90M182.70,248.50v2.60M181.75,249.80h1.90M187.30,248.50v2.60M186.35,249.80h1.90M191.20,248.50v2.60M190.25,249.80h1.90M194.20,248.50v2.60M193.25,249.80h1.90M197.30,248.50v2.60M196.35,249.80h1.90M204.20,248.50v2.60M203.25,249.80h1.90M208.00,248.50v2.60M207.05,249.80h1.90M210.40,248.50v2.60M209.45,249.80h1.90M214.20,248.50v2.60M213.25,249.80h1.90M218.80,248.50v2.60M217.85,249.80h1.90M220.40,248.50v2.60M219.45,249.80h1.90M224.20,248.50v2.60M223.25,249.80h1.90M226.50,248.50v2.60M225.55,249.80h1.90M232.00,248.50v2.60M231.05,249.80h1.90M234.20,248.50v2.60M233.25,249.80h1.90M239.30,248.50v2.60M238.35,249.80h1.90" fill="none" stroke="#1a1a1a" stroke-width="1.1"/>
<line x1="101.3" y1="285.3" x2="129.2" y2="285.3" stroke="#808080" stroke-width="1.0"/>
<text x="134.4" y="288.60" class="lg" textLength="90.80" lengthAdjust="spacingAndGlyphs">15-25: 0.90 ± 0.04 (N=69)</text>
<line x1="101.3" y1="297.1" x2="129.2" y2="297.1" stroke="#a8a8a8" stroke-width="1.0" stroke-dasharray="1.3 0.8"/>
<text x="134.4" y="298.30" class="lg" textLength="99.00" lengthAdjust="spacingAndGlyphs">26-55y: 0.84 ± 0.03 (N=196)</text>
<line x1="101.3" y1="308.7" x2="129.2" y2="308.7" stroke="#a8a8a8" stroke-width="1.0" stroke-dasharray="2 1.1"/>
<text x="134.4" y="308.70" class="lg" textLength="87.50" lengthAdjust="spacingAndGlyphs">&gt;56y: 0.62 ± 0.05 (N=98)</text>
<text x="134.4" y="320.00" class="lp" textLength="28.20" lengthAdjust="spacingAndGlyphs">P&lt;.0001</text>
<rect x="285.7" y="191.9" width="232.80" height="151.40" fill="none" stroke="#707070" stroke-width="1.1"/>
<line x1="283.20" y1="195.10" x2="285.7" y2="195.10" stroke="#707070" stroke-width="1"/>
<text x="281.90" y="198.15" text-anchor="end" class="tk">1.0</text>
<line x1="283.20" y1="224.11" x2="285.7" y2="224.11" stroke="#707070" stroke-width="1"/>
<text x="281.90" y="227.16" text-anchor="end" class="tk">0.8</text>
<line x1="283.20" y1="253.12" x2="285.7" y2="253.12" stroke="#707070" stroke-width="1"/>
<text x="281.90" y="256.17" text-anchor="end" class="tk">0.6</text>
<line x1="283.20" y1="282.13" x2="285.7" y2="282.13" stroke="#707070" stroke-width="1"/>
<text x="281.90" y="285.18" text-anchor="end" class="tk">0.4</text>
<line x1="283.20" y1="311.14" x2="285.7" y2="311.14" stroke="#707070" stroke-width="1"/>
<text x="281.90" y="314.19" text-anchor="end" class="tk">0.2</text>
<line x1="283.20" y1="340.15" x2="285.7" y2="340.15" stroke="#707070" stroke-width="1"/>
<text x="281.90" y="343.20" text-anchor="end" class="tk">0.0</text>
<line x1="297.00" y1="343.3" x2="297.00" y2="346.10" stroke="#707070" stroke-width="1"/>
<text x="297.00" y="355.50" text-anchor="middle" class="tk">0</text>
<line x1="351.60" y1="343.3" x2="351.60" y2="346.10" stroke="#707070" stroke-width="1"/>
<text x="351.60" y="355.50" text-anchor="middle" class="tk">2</text>
<line x1="406.20" y1="343.3" x2="406.20" y2="346.10" stroke="#707070" stroke-width="1"/>
<text x="406.20" y="355.50" text-anchor="middle" class="tk">4</text>
<line x1="460.80" y1="343.3" x2="460.80" y2="346.10" stroke="#707070" stroke-width="1"/>
<text x="460.80" y="355.50" text-anchor="middle" class="tk">6</text>
<line x1="515.40" y1="343.3" x2="515.40" y2="346.10" stroke="#707070" stroke-width="1"/>
<text x="515.40" y="355.50" text-anchor="middle" class="tk">8</text>
<text x="393.6" y="365.3" class="yr">years</text>
<path d="M297.00,195.10 L298.30,195.10 L298.30,218.30 L302.40,218.30 L302.40,225.50 L308.80,225.50 L308.80,233.60 L326.90,233.60 L326.90,241.10 L344.60,241.10 L344.60,250.00 L351.40,250.00 L351.40,258.90 L471.20,258.90" fill="none" stroke="#1a1a1a" stroke-width="1.05"/>
<path d="M297.6,195.1 V219.3" fill="none" stroke="#1a1a1a" stroke-width="1.0"/>
<path d="M305.2,219.3 H315.8 V221.8 H320 V227 H332.2 V232.7 H334.6 V235.3 H358.4 V237.3 H505.5" fill="none" stroke="#1a1a1a" stroke-width="0.9" stroke-dasharray="3.8 1.8"/>
<path d="M296.8,195.1 H302 M306.5,197 V199.3 H311.1 M311.7,200.5 V202.2 H313.25 V203.8 H314.6 V208.8 M318.5,235.2 H331.5" fill="none" stroke="#1a1a1a" stroke-width="0.95"/>
<path d="M302.8,195.1 H304.5 M315,210.6 V215.6" fill="none" stroke="#555" stroke-width="0.8"/>
<path d="M331.5,237.3 H359 V241.5 H481.2" fill="none" stroke="#1a1a1a" stroke-width="0.9" stroke-dasharray="4.6 1.4 1.2 1.4"/>
<path d="M297,195.1 V202.5 H298.3 V214.4 H302 M305.2,214 V223.7 M316.4,229.7 V239.3 M316.4,225.8 V226.7 M316.4,241.1 V242 M316.4,243 V243.5 H324.6 M327.7,244.3 V254.6 M330,254.8 H341.4 M346,254.5 V263.3 M346.9,265.7 H356.7 M360,265.7 H367.1 V268.8 M367.1,272 V278.2 H384.6 M388.5,278.2 H398.0 M401.6,278.2 H411.1 M414.7,278.2 H424.2 M427.8,278.2 H437.3 M440.9,278.2 H450.4 M454.0,278.2 H463.5 M467.1,278.2 H476.6 " fill="none" stroke="#1a1a1a" stroke-width="0.95"/>
<path d="M312.30,232.25v2.70M311.15,233.60h2.30M316.20,232.25v2.70M315.05,233.60h2.30" fill="none" stroke="#1a1a1a" stroke-width="1.0"/>
<path d="M320.80,233.85v2.70M319.65,235.20h2.30M323.80,233.85v2.70M322.65,235.20h2.30M327.00,233.85v2.70M325.85,235.20h2.30M330.80,233.85v2.70M329.65,235.20h2.30" fill="none" stroke="#1a1a1a" stroke-width="1.0"/>
<path d="M330.50,239.75v2.70M329.35,241.10h2.30M338.70,239.75v2.70M337.55,241.10h2.30" fill="none" stroke="#1a1a1a" stroke-width="1.0"/>
<path d="M360.20,257.55v2.70M359.05,258.90h2.30M375.40,257.55v2.70M374.25,258.90h2.30M384.30,257.55v2.70M383.15,258.90h2.30M395.60,257.55v2.70M394.45,258.90h2.30M435.00,257.55v2.70M433.85,258.90h2.30M438.70,257.55v2.70M437.55,258.90h2.30M441.70,257.55v2.70M440.55,258.90h2.30M445.00,257.55v2.70M443.85,258.90h2.30M470.70,257.55v2.70M469.55,258.90h2.30" fill="none" stroke="#1a1a1a" stroke-width="1.0"/>
<path d="M307.90,217.95v2.70M306.75,219.30h2.30M315.40,217.95v2.70M314.25,219.30h2.30" fill="none" stroke="#1a1a1a" stroke-width="1.0"/>
<path d="M316.60,220.45v2.70M315.45,221.80h2.30M319.20,220.45v2.70M318.05,221.80h2.30" fill="none" stroke="#1a1a1a" stroke-width="1.0"/>
<path d="M345.20,235.95v2.70M344.05,237.30h2.30M358.40,235.95v2.70M357.25,237.30h2.30M373.00,235.95v2.70M371.85,237.30h2.30M380.00,235.95v2.70M378.85,237.30h2.30M398.70,235.95v2.70M397.55,237.30h2.30M417.50,235.95v2.70M416.35,237.30h2.30M433.70,235.95v2.70M432.55,237.30h2.30M441.20,235.95v2.70M440.05,237.30h2.30M448.70,235.95v2.70M447.55,237.30h2.30M453.70,235.95v2.70M452.55,237.30h2.30M458.70,235.95v2.70M457.55,237.30h2.30M486.20,235.95v2.70M485.05,237.30h2.30M490.00,235.95v2.70M488.85,237.30h2.30M498.70,235.95v2.70M497.55,237.30h2.30M505.00,235.95v2.70M503.85,237.30h2.30" fill="none" stroke="#1a1a1a" stroke-width="1.0"/>
<path d="M361.30,240.15v2.70M360.15,241.50h2.30M381.50,240.15v2.70M380.35,241.50h2.30M390.00,240.15v2.70M388.85,241.50h2.30M393.70,240.15v2.70M392.55,241.50h2.30M405.00,240.15v2.70M403.85,241.50h2.30M418.70,240.15v2.70M417.55,241.50h2.30M427.50,240.15v2.70M426.35,241.50h2.30M431.20,240.15v2.70M430.05,241.50h2.30M435.00,240.15v2.70M433.85,241.50h2.30M447.50,240.15v2.70M446.35,241.50h2.30M462.50,240.15v2.70M461.35,241.50h2.30M475.00,240.15v2.70M473.85,241.50h2.30M478.70,240.15v2.70M477.55,241.50h2.30" fill="none" stroke="#1a1a1a" stroke-width="1.0"/>
<path d="M357.30,264.35v2.70M356.15,265.70h2.30" fill="none" stroke="#1a1a1a" stroke-width="1.0"/>
<path d="M390.80,276.85v2.70M389.65,278.20h2.30M406.20,276.85v2.70M405.05,278.20h2.30M421.50,276.85v2.70M420.35,278.20h2.30M433.70,276.85v2.70M432.55,278.20h2.30M447.50,276.85v2.70M446.35,278.20h2.30M477.50,276.85v2.70M476.35,278.20h2.30" fill="none" stroke="#1a1a1a" stroke-width="1.0"/>
<path d="M305.50,193.75v2.70M304.35,195.10h2.30" fill="none" stroke="#1a1a1a" stroke-width="1.0"/>
<line x1="372.3" y1="290.3" x2="400.7" y2="290.3" stroke="#808080" stroke-width="1.0"/>
<text x="405.7" y="293.90" class="lg" textLength="94.50" lengthAdjust="spacingAndGlyphs">55-59y: 0.56 ± 0.12 (N=19)</text>
<line x1="372.3" y1="301.9" x2="400.7" y2="301.9" stroke="#a8a8a8" stroke-width="1.0" stroke-dasharray="1.3 0.8"/>
<text x="405.7" y="303.70" class="lg" textLength="94.50" lengthAdjust="spacingAndGlyphs">60-65y: 0.71 ± 0.08 (N=34)</text>
<line x1="372.3" y1="313.6" x2="400.7" y2="313.6" stroke="#a8a8a8" stroke-width="1.0" stroke-dasharray="2 1.1"/>
<text x="405.7" y="313.90" class="lg" textLength="94.50" lengthAdjust="spacingAndGlyphs">66-70y: 0.68 ± 0.09 (N=30)</text>
<line x1="372.3" y1="324.2" x2="400.7" y2="324.2" stroke="#a8a8a8" stroke-width="1.0" stroke-dasharray="3 1.7"/>
<text x="405.7" y="325.20" class="lg" textLength="87.50" lengthAdjust="spacingAndGlyphs">&gt;70y: 0.43 ± 0.14 (N=15)</text>
<text x="405.7" y="335.70" class="lp" textLength="24.30" lengthAdjust="spacingAndGlyphs">P=0.30</text>
<rect x="18.5" y="373.6" width="234.00" height="150.70" fill="none" stroke="#707070" stroke-width="1.1"/>
<line x1="16.00" y1="376.20" x2="18.5" y2="376.20" stroke="#707070" stroke-width="1"/>
<text x="14.70" y="379.25" text-anchor="end" class="tk">1.0</text>
<line x1="16.00" y1="405.18" x2="18.5" y2="405.18" stroke="#707070" stroke-width="1"/>
<text x="14.70" y="408.23" text-anchor="end" class="tk">0.8</text>
<line x1="16.00" y1="434.16" x2="18.5" y2="434.16" stroke="#707070" stroke-width="1"/>
<text x="14.70" y="437.21" text-anchor="end" class="tk">0.6</text>
<line x1="16.00" y1="463.14" x2="18.5" y2="463.14" stroke="#707070" stroke-width="1"/>
<text x="14.70" y="466.19" text-anchor="end" class="tk">0.4</text>
<line x1="16.00" y1="492.12" x2="18.5" y2="492.12" stroke="#707070" stroke-width="1"/>
<text x="14.70" y="495.17" text-anchor="end" class="tk">0.2</text>
<line x1="16.00" y1="521.10" x2="18.5" y2="521.10" stroke="#707070" stroke-width="1"/>
<text x="14.70" y="524.15" text-anchor="end" class="tk">0.0</text>
<line x1="30.40" y1="524.3" x2="30.40" y2="527.10" stroke="#707070" stroke-width="1"/>
<text x="30.80" y="535.60" text-anchor="middle" class="tk">0</text>
<line x1="85.00" y1="524.3" x2="85.00" y2="527.10" stroke="#707070" stroke-width="1"/>
<text x="85.40" y="535.60" text-anchor="middle" class="tk">2</text>
<line x1="139.50" y1="524.3" x2="139.50" y2="527.10" stroke="#707070" stroke-width="1"/>
<text x="139.90" y="535.60" text-anchor="middle" class="tk">4</text>
<line x1="194.10" y1="524.3" x2="194.10" y2="527.10" stroke="#707070" stroke-width="1"/>
<text x="194.50" y="535.60" text-anchor="middle" class="tk">6</text>
<line x1="248.70" y1="524.3" x2="248.70" y2="527.10" stroke="#707070" stroke-width="1"/>
<text x="249.10" y="535.60" text-anchor="middle" class="tk">8</text>
<text x="128.2" y="545.4" class="yr">years</text>
<path d="M30.80,376.50 L32.00,376.50 L32.00,379.50 L33.50,379.50 L33.50,381.50 L35.27,381.50 L35.27,382.00 L37.03,382.00 L37.03,382.50 L38.80,382.50 L38.80,383.00 L40.40,383.00 L40.40,384.00 L42.00,384.00 L42.00,385.00 L43.50,385.00 L43.50,386.00 L45.00,386.00 L45.00,387.00 L46.80,387.00 L46.80,388.00 L48.60,388.00 L48.60,389.00 L50.40,389.00 L50.40,390.00 L52.20,390.00 L52.20,390.93 L54.00,390.93 L54.00,391.87 L55.80,391.87 L55.80,392.80 L57.35,392.80 L57.35,393.18 L58.90,393.18 L58.90,393.55 L60.45,393.55 L60.45,393.93 L62.00,393.93 L62.00,394.30 L63.52,394.30 L63.52,394.58 L65.04,394.58 L65.04,394.86 L66.56,394.86 L66.56,395.14 L68.08,395.14 L68.08,395.42 L69.60,395.42 L69.60,395.70 L71.15,395.70 L71.15,395.80 L72.70,395.80 L72.70,395.90 L74.25,395.90 L74.25,396.00 L75.80,396.00 L75.80,396.10 L77.35,396.10 L77.35,396.20 L78.90,396.20 L78.90,396.30 L80.45,396.30 L80.45,396.40 L82.00,396.40 L82.00,396.50 L83.50,396.50 L83.50,397.07 L85.00,397.07 L85.00,397.63 L86.50,397.63 L86.50,398.20 L88.04,398.20 L88.04,398.34 L89.59,398.34 L89.59,398.49 L91.13,398.49 L91.13,398.63 L92.67,398.63 L92.67,398.77 L94.21,398.77 L94.21,398.91 L95.76,398.91 L95.76,399.06 L97.30,399.06 L97.30,399.20 L99.03,399.20 L99.03,399.48 L100.75,399.48 L100.75,399.75 L102.47,399.75 L102.47,400.02 L104.20,400.02 L104.20,400.30" fill="none" stroke="#1a1a1a" stroke-width="0.8"/>
<path d="M104.20,400.30 L248.00,400.30" fill="none" stroke="#2a2a2a" stroke-width="0.62"/>
<path d="M30.80,376.50 L32.00,376.50 L32.00,379.50 L33.50,379.50 L33.50,381.70 L35.27,381.70 L35.27,382.27 L37.03,382.27 L37.03,382.83 L38.80,382.83 L38.80,383.40 L40.37,383.40 L40.37,384.33 L41.93,384.33 L41.93,385.27 L43.50,385.27 L43.50,386.20 L45.50,386.20 L45.50,389.50 L47.30,389.50 L47.30,393.00 L48.50,393.00 L48.50,397.00 L49.60,397.00 L49.60,400.00 L52.00,400.00 L52.00,405.00 L53.50,405.00 L53.50,405.90 L55.00,405.90 L55.00,406.80 L56.50,406.80 L56.50,407.65 L58.00,407.65 L58.00,408.50 L59.57,408.50 L59.57,409.60 L61.13,409.60 L61.13,410.70 L62.70,410.70 L62.70,411.80 L64.42,411.80 L64.42,412.30 L66.15,412.30 L66.15,412.80 L67.88,412.80 L67.88,413.30 L69.60,413.30 L69.60,413.80 L71.15,413.80 L71.15,414.20 L72.70,414.20 L72.70,414.60 L74.25,414.60 L74.25,415.00 L75.80,415.00 L75.80,415.40 L77.70,415.40 L77.70,416.80 L79.60,416.80 L79.60,418.20 L81.26,418.20 L81.26,418.29 L82.91,418.29 L82.91,418.37 L84.57,418.37 L84.57,418.46 L86.23,418.46 L86.23,418.54 L87.89,418.54 L87.89,418.63 L89.54,418.63 L89.54,418.71 L91.20,418.71 L91.20,418.80 L92.70,418.80 L92.70,419.40 L94.20,419.40 L94.20,420.00" fill="none" stroke="#1a1a1a" stroke-width="1.0" stroke-dasharray="2 0.7"/>
<path d="M94.20,420.00 L212.50,420.00" fill="none" stroke="#2a2a2a" stroke-width="0.62" stroke-dasharray="2 0.7"/>
<path d="M214.20,420.00 L236.30,420.00" fill="none" stroke="#1a1a1a" stroke-width="0.62" stroke-dasharray="3.8 3.1"/>
<path d="M32.96,379.49v2.60M32.01,380.79h1.90M35.49,380.76v2.60M34.54,382.06h1.90M37.58,381.36v2.60M36.63,382.66h1.90M40.04,382.48v2.60M39.09,383.78h1.90M42.31,383.91v2.60M41.36,385.21h1.90M44.06,385.07v2.60M43.11,386.37h1.90M46.26,386.40v2.60M45.31,387.70h1.90M49.25,388.06v2.60M48.30,389.36h1.90M50.98,389.00v2.60M50.03,390.30h1.90M53.21,390.16v2.60M52.26,391.46h1.90M56.15,391.58v2.60M55.20,392.88h1.90M57.92,392.01v2.60M56.97,393.31h1.90M60.50,392.64v2.60M59.55,393.94h1.90M62.43,393.08v2.60M61.48,394.38h1.90M64.83,393.52v2.60M63.88,394.82h1.90M66.64,393.85v2.60M65.69,395.15h1.90M69.32,394.35v2.60M68.37,395.65h1.90M71.78,394.54v2.60M70.83,395.84h1.90M73.72,394.67v2.60M72.77,395.97h1.90M76.17,394.82v2.60M75.22,396.12h1.90M78.35,394.96v2.60M77.40,396.26h1.90M80.06,395.07v2.60M79.11,396.37h1.90M82.93,395.55v2.60M81.98,396.85h1.90M85.03,396.35v2.60M84.08,397.65h1.90M87.02,396.95v2.60M86.07,398.25h1.90M89.03,397.13v2.60M88.08,398.43h1.90M92.03,397.41v2.60M91.08,398.71h1.90M93.93,397.59v2.60M92.98,398.89h1.90M96.40,397.82v2.60M95.45,399.12h1.90M98.79,398.14v2.60M97.84,399.44h1.90M100.89,398.47v2.60M99.94,399.77h1.90M102.30,398.70v2.60M101.35,400.00h1.90M103.80,398.94v2.60M102.85,400.24h1.90M106.60,399.00v2.60M105.65,400.30h1.90M107.40,399.00v2.60M106.45,400.30h1.90M108.50,399.00v2.60M107.55,400.30h1.90M112.30,399.00v2.60M111.35,400.30h1.90M114.60,399.00v2.60M113.65,400.30h1.90M117.00,399.00v2.60M116.05,400.30h1.90M122.30,399.00v2.60M121.35,400.30h1.90M124.60,399.00v2.60M123.65,400.30h1.90M127.00,399.00v2.60M126.05,400.30h1.90M128.50,399.00v2.60M127.55,400.30h1.90M132.30,399.00v2.60M131.35,400.30h1.90M134.60,399.00v2.60M133.65,400.30h1.90M138.50,399.00v2.60M137.55,400.30h1.90M140.80,399.00v2.60M139.85,400.30h1.90M146.20,399.00v2.60M145.25,400.30h1.90M151.50,399.00v2.60M150.55,400.30h1.90M153.00,399.00v2.60M152.05,400.30h1.90M154.60,399.00v2.60M153.65,400.30h1.90M157.00,399.00v2.60M156.05,400.30h1.90M163.00,399.00v2.60M162.05,400.30h1.90M164.60,399.00v2.60M163.65,400.30h1.90M167.00,399.00v2.60M166.05,400.30h1.90M171.50,399.00v2.60M170.55,400.30h1.90M173.00,399.00v2.60M172.05,400.30h1.90M175.00,399.00v2.60M174.05,400.30h1.90M176.50,399.00v2.60M175.55,400.30h1.90M178.50,399.00v2.60M177.55,400.30h1.90M175.80,399.00v2.60M174.85,400.30h1.90M177.30,399.00v2.60M176.35,400.30h1.90M178.80,399.00v2.60M177.85,400.30h1.90M180.40,399.00v2.60M179.45,400.30h1.90M182.00,399.00v2.60M181.05,400.30h1.90M185.80,399.00v2.60M184.85,400.30h1.90M188.80,399.00v2.60M187.85,400.30h1.90M191.60,399.00v2.60M190.65,400.30h1.90M195.80,399.00v2.60M194.85,400.30h1.90M197.30,399.00v2.60M196.35,400.30h1.90M200.40,399.00v2.60M199.45,400.30h1.90M204.00,399.00v2.60M203.05,400.30h1.90M208.00,399.00v2.60M207.05,400.30h1.90M210.40,399.00v2.60M209.45,400.30h1.90M214.20,399.00v2.60M213.25,400.30h1.90M216.50,399.00v2.60M215.55,400.30h1.90M218.80,399.00v2.60M217.85,400.30h1.90M221.20,399.00v2.60M220.25,400.30h1.90M223.50,399.00v2.60M222.55,400.30h1.90M225.80,399.00v2.60M224.85,400.30h1.90M228.00,399.00v2.60M227.05,400.30h1.90M229.60,399.00v2.60M228.65,400.30h1.90M235.80,399.00v2.60M234.85,400.30h1.90M238.80,399.00v2.60M237.85,400.30h1.90M241.20,399.00v2.60M240.25,400.30h1.90M247.00,399.00v2.60M246.05,400.30h1.90" fill="none" stroke="#1a1a1a" stroke-width="1.1"/>
<path d="M48.00,394.03v2.60M47.05,395.33h1.90M52.00,403.70v2.60M51.05,405.00h1.90M55.80,405.95v2.60M54.85,407.25h1.90M58.00,407.20v2.60M57.05,408.50h1.90M63.50,410.73v2.60M62.55,412.03h1.90M68.80,412.27v2.60M67.85,413.57h1.90M86.50,417.26v2.60M85.55,418.56h1.90M91.20,417.50v2.60M90.25,418.80h1.90M95.80,418.70v2.60M94.85,420.00h1.90M98.00,418.70v2.60M97.05,420.00h1.90M100.00,418.70v2.60M99.05,420.00h1.90M102.00,418.70v2.60M101.05,420.00h1.90M103.80,418.70v2.60M102.85,420.00h1.90M100.80,418.70v2.60M99.85,420.00h1.90M102.30,418.70v2.60M101.35,420.00h1.90M105.40,418.70v2.60M104.45,420.00h1.90M108.50,418.70v2.60M107.55,420.00h1.90M110.80,418.70v2.60M109.85,420.00h1.90M113.00,418.70v2.60M112.05,420.00h1.90M115.40,418.70v2.60M114.45,420.00h1.90M117.70,418.70v2.60M116.75,420.00h1.90M121.50,418.70v2.60M120.55,420.00h1.90M124.60,418.70v2.60M123.65,420.00h1.90M126.50,418.70v2.60M125.55,420.00h1.90M128.50,418.70v2.60M127.55,420.00h1.90M131.50,418.70v2.60M130.55,420.00h1.90M133.50,418.70v2.60M132.55,420.00h1.90M135.40,418.70v2.60M134.45,420.00h1.90M137.70,418.70v2.60M136.75,420.00h1.90M142.30,418.70v2.60M141.35,420.00h1.90M144.60,418.70v2.60M143.65,420.00h1.90M147.00,418.70v2.60M146.05,420.00h1.90M149.20,418.70v2.60M148.25,420.00h1.90M152.30,418.70v2.60M151.35,420.00h1.90M154.60,418.70v2.60M153.65,420.00h1.90M157.70,418.70v2.60M156.75,420.00h1.90M161.50,418.70v2.60M160.55,420.00h1.90M163.40,418.70v2.60M162.45,420.00h1.90M165.40,418.70v2.60M164.45,420.00h1.90M166.70,418.70v2.60M165.75,420.00h1.90M167.40,418.70v2.60M166.45,420.00h1.90M168.50,418.70v2.60M167.55,420.00h1.90M170.80,418.70v2.60M169.85,420.00h1.90M175.40,418.70v2.60M174.45,420.00h1.90M177.70,418.70v2.60M176.75,420.00h1.90M177.30,418.70v2.60M176.35,420.00h1.90M182.00,418.70v2.60M181.05,420.00h1.90M184.20,418.70v2.60M183.25,420.00h1.90M185.80,418.70v2.60M184.85,420.00h1.90M188.80,418.70v2.60M187.85,420.00h1.90M192.40,418.70v2.60M191.45,420.00h1.90M193.10,418.70v2.60M192.15,420.00h1.90M199.60,418.70v2.60M198.65,420.00h1.90M208.80,418.70v2.60M207.85,420.00h1.90M211.20,418.70v2.60M210.25,420.00h1.90M231.60,418.70v2.60M230.65,420.00h1.90M235.00,418.70v2.60M234.05,420.00h1.90" fill="none" stroke="#1a1a1a" stroke-width="1.1"/>
<line x1="105.8" y1="469.6" x2="134.2" y2="469.6" stroke="#959595" stroke-width="1.2"/>
<text x="141.1" y="473.30" class="lg" textLength="92.30" lengthAdjust="spacingAndGlyphs">Male: 0.84 ± 0.02 (N=253)</text>
<line x1="105.8" y1="481.4" x2="134.2" y2="481.4" stroke="#8e8e8e" stroke-width="1.0" stroke-dasharray="1.3 0.8"/>
<text x="141.1" y="484.10" class="lg" textLength="99.50" lengthAdjust="spacingAndGlyphs">Female: 0.70 ± 0.05 (N=110)</text>
<text x="141.1" y="493.80" class="lp" textLength="27.70" lengthAdjust="spacingAndGlyphs">P=0.004</text>
</svg></body></html>
